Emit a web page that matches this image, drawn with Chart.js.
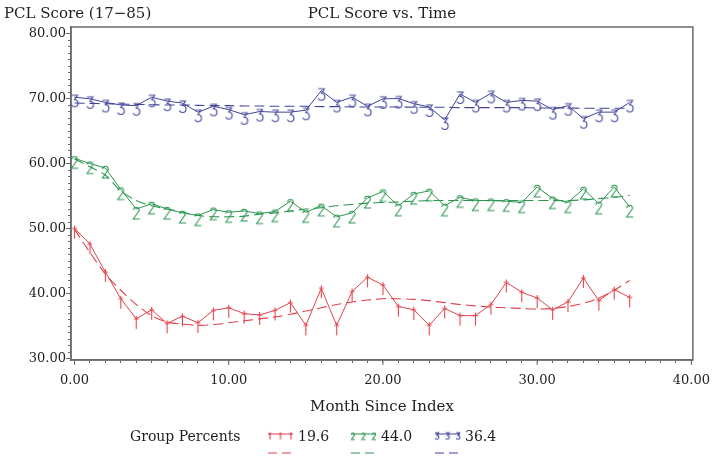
<!DOCTYPE html>
<html>
<head>
<meta charset="utf-8">
<script src="https://cdn.jsdelivr.net/npm/chart.js@4"></script>
<style>
  body { margin: 0; background: #fff; }
  canvas { display: block; }
</style>
</head>
<body>
<canvas id="myChart" width="720" height="457"></canvas>
<script>
const months = [0, 1, 2, 3, 4, 5, 6, 7, 8, 9, 10, 11, 12, 13, 14, 15, 16, 17, 18,
  19, 20, 21, 22, 23, 24, 25, 26, 27, 28, 29, 30, 31, 32, 33, 34, 35, 36];

const group1 = [50.0, 47.6, 43.3, 39.2, 36.1, 37.5, 35.4, 36.5, 35.5, 37.4, 37.8, 36.9, 36.7,
  37.4, 38.6, 35.1, 40.8, 35.1, 40.3, 42.5, 41.3, 38.0, 37.5, 35.1, 37.7, 36.6, 36.6,
  38.3, 41.7, 40.2, 39.3, 37.5, 38.7, 42.4, 38.9, 40.6, 39.4];
const group1Fit = [49.9, 46.3, 43.0, 40.5, 38.3, 36.6, 35.6, 35.3, 35.1, 35.2, 35.5, 35.8, 36.1,
  36.4, 36.8, 37.3, 37.8, 38.3, 38.7, 39.0, 39.2, 39.2, 39.1, 38.9, 38.6, 38.3, 38.1,
  37.9, 37.8, 37.7, 37.6, 37.7, 38.0, 38.5, 39.3, 40.5, 42.0];

const group2 = [60.8, 60.0, 59.3, 56.0, 53.0, 53.8, 53.0, 52.4, 52.0, 52.9, 52.5, 52.7, 52.3,
  52.6, 54.2, 52.5, 53.5, 51.8, 52.4, 54.7, 55.7, 53.5, 55.3, 55.8, 53.5, 54.8, 54.3,
  54.3, 54.2, 54.0, 56.4, 54.6, 54.0, 56.1, 53.8, 56.4, 53.3];
const group2Fit = [60.7, 59.5, 58.2, 55.8, 54.3, 53.5, 53.0, 52.5, 52.0, 51.8, 51.8, 51.9, 52.2,
  52.4, 52.7, 53.0, 53.2, 53.5, 53.7, 53.9, 54.0, 54.1, 54.2, 54.3, 54.3, 54.3, 54.3,
  54.3, 54.3, 54.3, 54.3, 54.3, 54.3, 54.4, 54.6, 54.8, 55.1];

const group3 = [70.2, 69.95, 69.4, 69.0, 68.9, 70.2, 69.6, 69.3, 67.9, 68.8, 68.3, 67.5, 68.0,
  67.9, 67.9, 68.2, 71.2, 69.4, 70.2, 68.8, 69.95, 70.0, 69.2, 68.7, 66.7, 70.7, 69.4,
  70.8, 69.4, 69.7, 69.6, 68.3, 68.9, 66.9, 67.9, 67.9, 69.4];
const group3Fit = [69.3, 69.25, 69.2, 69.15, 69.1, 69.05, 69.0, 69.0, 68.95, 68.9, 68.9, 68.85, 68.85,
  68.8, 68.8, 68.8, 68.75, 68.75, 68.7, 68.7, 68.7, 68.7, 68.65, 68.65, 68.65, 68.6, 68.6,
  68.6, 68.6, 68.6, 68.55, 68.55, 68.55, 68.5, 68.5, 68.5, 68.5];

const groupLabels = ['19.6', '44.0', '36.4'];
const xMajorTicks = [0, 10, 20, 30, 40];
const yMajorTicks = [30, 40, 50, 60, 70, 80];

const colors = ['#e2424b', '#2b9650', '#41449a'];
const textColor = '#1e1e1e';
const serif = '"DejaVu Serif", serif';

// little glyph-like markers, point sits in the middle of the canvas
function makeMarker(kind, color, s) {
  const c = document.createElement('canvas');
  c.width = Math.round(12 * s) + 1;
  c.height = Math.round(28 * s);
  const g = c.getContext('2d');
  const cx = c.width / 2, cy = c.height / 2;
  g.strokeStyle = color;
  g.lineWidth = 1.1;
  g.beginPath();
  if (kind === 1) {
    g.moveTo(cx, cy - 3 * s); g.lineTo(cx, cy + 10 * s);
    g.moveTo(cx - 2.5 * s, cy); g.lineTo(cx + 2.5 * s, cy);
  } else if (kind === 2) {
    g.arc(cx, cy + 1 * s, 2.8 * s, Math.PI, Math.PI * 2.3, false);
    g.lineTo(cx - 3 * s, cy + 10 * s);
    g.lineTo(cx + 3.5 * s, cy + 10 * s);
  } else {
    g.moveTo(cx - 3 * s, cy - 2 * s); g.lineTo(cx + 3 * s, cy - 2 * s);
    g.lineTo(cx, cy + 2.5 * s);
    g.arc(cx, cy + 6 * s, 3.5 * s, -Math.PI / 2, Math.PI * 0.85, false);
  }
  g.stroke();
  return c;
}

const markers = [1, 2, 3].map((k, i) => makeMarker(k, colors[i], 1));
const legendMarkers = [1, 2, 3].map((k, i) => makeMarker(k, colors[i], 0.55));

const toPoints = (vals) => vals.map((v, i) => ({ x: months[i], y: v }));

const observed = [group1, group2, group3].map((vals, i) => ({
  label: groupLabels[i],
  data: toPoints(vals),
  borderColor: colors[i],
  borderWidth: 1,
  pointStyle: markers[i],
  pointRadius: 5,
  tension: 0,
}));

const fitted = [group1Fit, group2Fit, group3Fit].map((vals, i) => ({
  label: groupLabels[i] + ' fit',
  data: toPoints(vals),
  borderColor: colors[i],
  borderWidth: 1.1,
  borderDash: [10, 5],
  pointRadius: 0,
  tension: 0.3,
}));

const textPlugin = {
  id: 'sasText',
  beforeDatasetsDraw(chart) {
    const { ctx, chartArea } = chart;
    ctx.save();
    ctx.strokeStyle = '#6a6a6a';
    ctx.lineWidth = 1.5;
    ctx.strokeRect(chartArea.left, chartArea.top, chartArea.right - chartArea.left, chartArea.bottom - chartArea.top);
    // longer major ticks
    const xs = chart.scales.x, ys = chart.scales.y;
    ctx.lineWidth = 1;
    ctx.beginPath();
    xMajorTicks.forEach(v => {
      const px = xs.getPixelForValue(v);
      ctx.moveTo(px, chartArea.bottom); ctx.lineTo(px, chartArea.bottom + 5);
    });
    yMajorTicks.forEach(v => {
      const py = ys.getPixelForValue(v);
      ctx.moveTo(chartArea.left, py); ctx.lineTo(chartArea.left - 5, py);
    });
    ctx.stroke();
    ctx.restore();
  },
  afterDraw(chart) {
    const { ctx, chartArea } = chart;
    const midX = (chartArea.left + chartArea.right) / 2;
    ctx.save();
    ctx.fillStyle = textColor;
    ctx.textBaseline = 'middle';
    ctx.font = '15px ' + serif;
    ctx.textAlign = 'left';
    ctx.fillText('PCL Score (17\u221285)', 4, 14);
    ctx.textAlign = 'center';
    ctx.fillText('PCL Score vs. Time', midX, 14);
    ctx.fillText('Month Since Index', midX, 407);

    ctx.font = '14px ' + serif;
    ctx.textAlign = 'left';
    ctx.fillText('Group Percents', 130, 437);
    const sampleX = [268, 351, 435];
    groupLabels.forEach((lab, i) => {
      const x0 = sampleX[i], x1 = x0 + 25;
      ctx.strokeStyle = colors[i];
      ctx.lineWidth = 1;
      ctx.setLineDash([]);
      ctx.beginPath();
      ctx.moveTo(x0, 434); ctx.lineTo(x1, 434);
      ctx.stroke();
      const m = legendMarkers[i];
      [x0 + 2, x0 + 12.5, x0 + 23].forEach(mx => ctx.drawImage(m, mx - m.width / 2, 434 - m.height / 2));
      ctx.setLineDash([9, 5]);
      ctx.lineWidth = 1.2;
      ctx.beginPath();
      ctx.moveTo(x0, 453); ctx.lineTo(x1, 453);
      ctx.stroke();
      ctx.setLineDash([]);
      ctx.fillStyle = textColor;
      ctx.fillText(lab, x1 + 5, 437);
    });
    ctx.restore();
  },
};

const minorX = [];
for (let i = 0; i <= 40; i++) minorX.push(i);
const minorY = [];
for (let i = 30; i <= 80; i++) minorY.push(i);

const ctx = document.getElementById('myChart').getContext('2d');
const chart = new Chart(ctx, {
  type: 'line',
  data: { datasets: observed.concat(fitted) },
  options: {
    responsive: false,
    animation: false,
    layout: { padding: { top: 27, right: 19, left: 0, bottom: 0 } },
    plugins: { legend: { display: false }, tooltip: { enabled: false } },
    scales: {
      x: {
        type: 'linear',
        min: -0.23,
        max: 40.1,
        afterBuildTicks: (axis) => { axis.ticks = minorX.map(v => ({ value: v })); },
        afterFit: (scale) => { scale.height = 97; },
        grid: { drawOnChartArea: false, tickLength: 3, color: '#6a6a6a' },
        border: { color: '#6a6a6a', width: 1.5 },
        ticks: {
          autoSkip: false,
          maxRotation: 0,
          padding: 10,
          color: textColor,
          font: { family: serif, size: 13 },
          callback: (v) => xMajorTicks.includes(v) ? v.toFixed(2) : '',
        },
      },
      y: {
        min: 29.77,
        max: 81.0,
        afterBuildTicks: (axis) => { axis.ticks = minorY.map(v => ({ value: v })); },
        afterFit: (scale) => { scale.width = 71; },
        grid: { drawOnChartArea: false, tickLength: 3, color: '#6a6a6a' },
        border: { color: '#6a6a6a', width: 1.5 },
        ticks: {
          autoSkip: false,
          padding: 2,
          color: textColor,
          font: { family: serif, size: 13 },
          callback: (v) => yMajorTicks.includes(v) ? v.toFixed(2) : '',
        },
      },
    },
  },
  plugins: [textPlugin],
});
</script>
</body>
</html>
